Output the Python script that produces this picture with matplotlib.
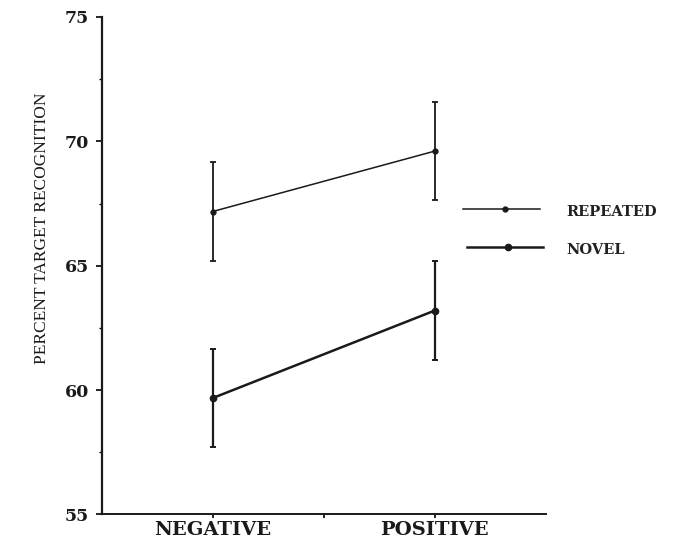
import matplotlib
matplotlib.use("Agg")
import matplotlib.pyplot as plt
from matplotlib.lines import Line2D
from matplotlib.ticker import MultipleLocator

categories = ["NEGATIVE", "POSITIVE"]
series_names = ["REPEATED", "NOVEL"]
repeated = [67.18, 69.61]
repeated_err = [1.99, 1.97]
novel = [59.68, 63.20]
novel_err = [1.98, 1.98]
yticks = [55, 60, 65, 70, 75]

plt.rcParams['font.family'] = ['DejaVu Serif']

fig = plt.figure(figsize=(6.77, 5.41), dpi=100)
ax = fig.add_axes([0.150, 0.049, 0.6565, 0.9196])

xpos = [1, 3]
ax.errorbar(xpos, repeated, yerr=repeated_err, color='#1a1a1a', lw=1.1,
            elinewidth=1.3, capsize=2, capthick=1.3, marker='o', ms=3.5)
ax.errorbar(xpos, novel, yerr=novel_err, color='#1a1a1a', lw=1.8,
            elinewidth=1.6, capsize=2, capthick=1.4, marker='o', ms=4.5)

ax.set_xlim(0, 4)
ax.set_ylim(55, 75)
ax.set_xticks([1, 2, 3])
ax.set_xticklabels([categories[0], "", categories[1]], fontsize=14,
                   fontweight='bold')
ax.set_yticks(yticks)
ax.set_yticklabels([str(v) for v in yticks], fontsize=12.5, fontweight='bold')
ax.yaxis.set_minor_locator(MultipleLocator(2.5))
ax.tick_params(axis='y', which='major', length=4, width=1.2, direction='out', pad=5)
ax.tick_params(axis='y', which='minor', length=2, width=1, direction='out')
ax.tick_params(axis='x', which='major', length=3, width=1.2, direction='out', pad=2)
for lab in ax.get_xticklabels() + ax.get_yticklabels():
    lab.set_color('#1a1a1a')
for s in ['top', 'right']:
    ax.spines[s].set_visible(False)
ax.spines['left'].set_linewidth(1.6)
ax.spines['bottom'].set_linewidth(1.4)
ax.spines['left'].set_color('#1a1a1a')
ax.spines['bottom'].set_color('#1a1a1a')

fig.text(0.062, 1 - 228 / 541, "PERCENT TARGET RECOGNITION", rotation=90,
         ha='center', va='center', fontsize=12.5, color='#1a1a1a',
         family=['Liberation Serif', 'DejaVu Serif'])

# manual legend (figure pixel coords -> fraction)
W, H = 677, 541
leg = [(463, 540, 209, 505, 1.1, 3.5), (467, 543, 247, 508, 1.8, 4.5)]
for name, (x0, x1, y, xm, lw, ms) in zip(series_names, leg):
    fig.add_artist(Line2D([x0 / W, x1 / W], [1 - y / H, 1 - y / H],
                          transform=fig.transFigure, color='#1a1a1a', lw=lw))
    fig.add_artist(Line2D([xm / W], [1 - y / H], transform=fig.transFigure,
                          color='#1a1a1a', marker='o', ms=ms, lw=0))
    fig.text(566 / W, 1 - (y + 3) / H, name, ha='left', va='center',
             fontsize=10.5, fontweight='bold', color='#222222')

fig.savefig("out.png", dpi=100)
